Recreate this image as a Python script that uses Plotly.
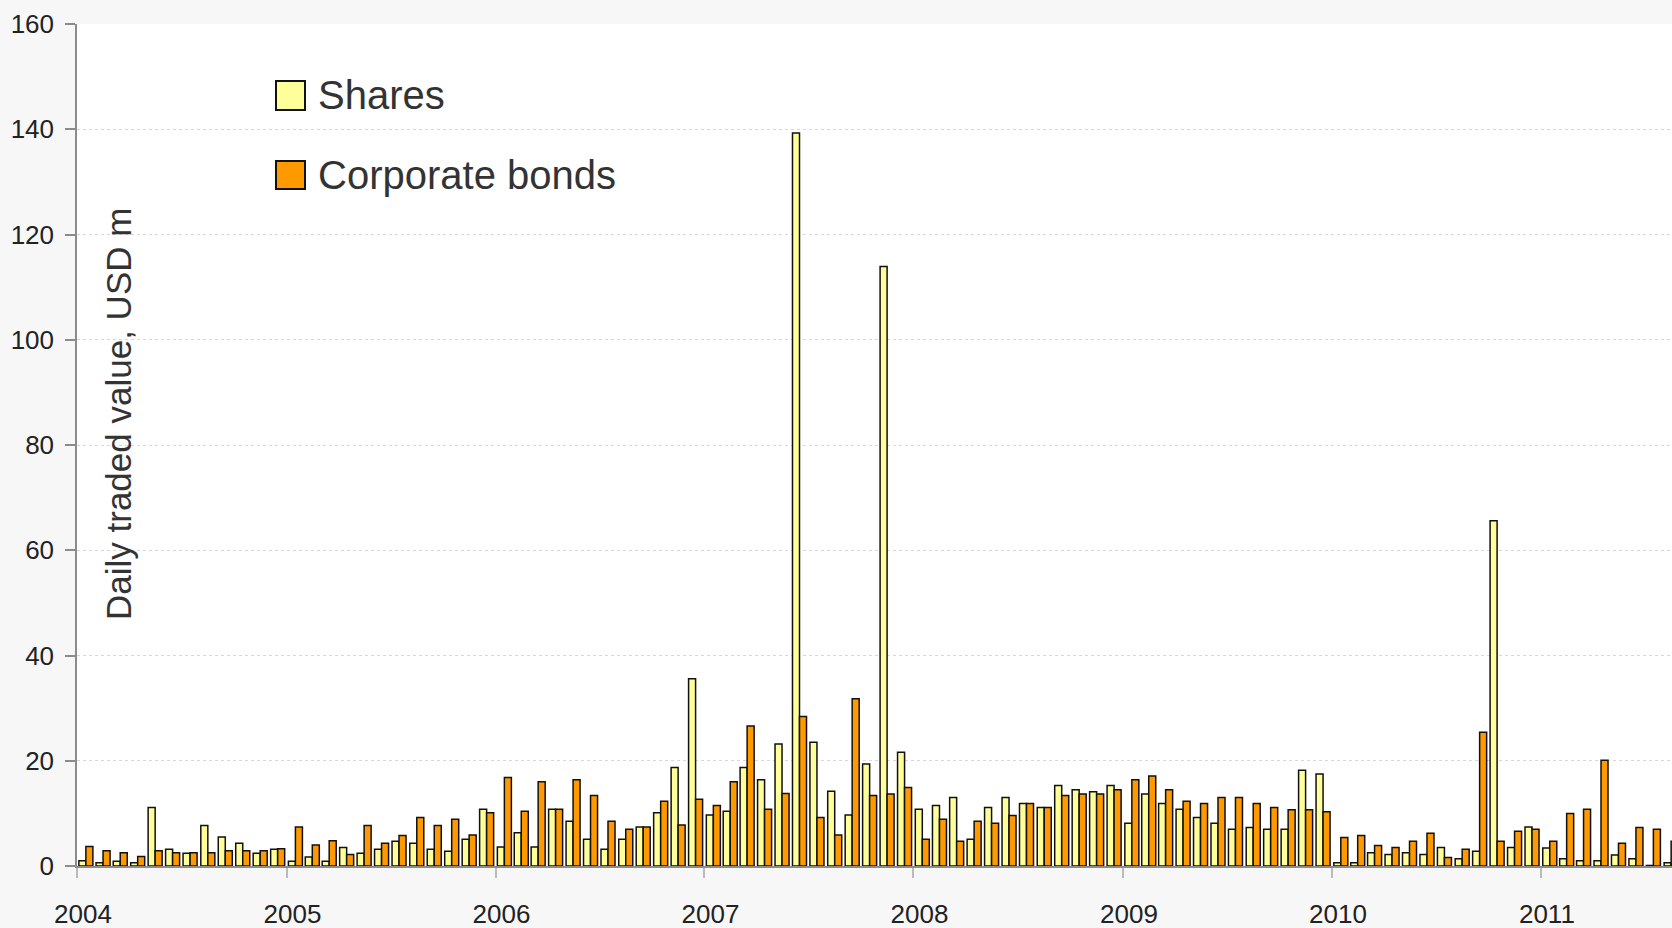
import pandas as pd
import plotly.graph_objects as go

# Monthly categories (Jan 2004 - Aug 2011)
months = pd.date_range("2004-01-01", "2011-08-01", freq="MS")

# Daily traded value, USD m
shares = [
    1.0, 0.6, 0.9, 0.6, 11.1, 3.2, 2.4, 7.7, 5.5, 4.3, 2.4, 3.2,          # 2004
    0.9, 1.7, 0.9, 3.5, 2.4, 3.2, 4.7, 4.3, 3.2, 2.8, 5.1, 10.8,          # 2005
    3.6, 6.3, 3.6, 10.8, 8.5, 5.1, 3.2, 5.1, 7.4, 10.1, 18.7, 35.6,       # 2006
    9.7, 10.4, 18.7, 16.4, 23.2, 139.3, 23.5, 14.2, 9.7, 19.4, 113.9, 21.6,  # 2007
    10.8, 11.5, 13.0, 5.1, 11.1, 13.0, 11.9, 11.1, 15.3, 14.5, 14.1, 15.3,  # 2008
    8.1, 13.7, 11.9, 10.8, 9.2, 8.1, 7.0, 7.3, 7.0, 7.0, 18.2, 17.5,      # 2009
    0.6, 0.6, 2.5, 2.2, 2.5, 2.2, 3.5, 1.4, 2.8, 65.6, 3.5, 7.4,          # 2010
    3.4, 1.4, 1.0, 1.0, 2.1, 1.4, 0.1, 0.6,                               # 2011
]
corporate_bonds = [
    3.7, 2.9, 2.5, 1.8, 2.9, 2.5, 2.5, 2.5, 2.9, 2.9, 2.9, 3.3,           # 2004
    7.4, 4.0, 4.8, 2.2, 7.7, 4.3, 5.8, 9.2, 7.7, 8.9, 5.9, 10.1,          # 2005
    16.8, 10.4, 16.0, 10.8, 16.4, 13.4, 8.5, 7.0, 7.4, 12.3, 7.8, 12.7,   # 2006
    11.5, 16.0, 26.6, 10.8, 13.8, 28.4, 9.2, 5.9, 31.8, 13.4, 13.7, 14.9, # 2007
    5.1, 8.9, 4.7, 8.5, 8.1, 9.6, 11.9, 11.1, 13.4, 13.7, 13.7, 14.5,     # 2008
    16.4, 17.1, 14.5, 12.3, 11.9, 13.0, 13.0, 11.9, 11.1, 10.7, 10.7, 10.3,  # 2009
    5.4, 5.8, 3.9, 3.5, 4.7, 6.2, 1.6, 3.2, 25.4, 4.7, 6.6, 7.0,          # 2010
    4.7, 10.0, 10.8, 20.1, 4.3, 7.3, 7.0, 4.7,                            # 2011
]

tick_labels = ["2004", "2005", "2006", "2007", "2008", "2009", "2010", "2011"]
tick_dates = [f"{y}-01-01" for y in tick_labels]
y_ticks = [0, 20, 40, 60, 80, 100, 120, 140, 160]

series_names = ["Shares", "Corporate bonds"]
series_colors = ["#FFFF99", "#FF9900"]

FONT = "Liberation Sans Narrow, Arial Narrow, Liberation Sans, Arial, sans-serif"
TXT = "#333333"
AXIS = "#8c8c8c"

fig = go.Figure()
for name, vals, col in zip(series_names, [shares, corporate_bonds], series_colors):
    fig.add_trace(go.Bar(
        x=months, y=vals, name=name,
        xperiod="M1", xperiodalignment="middle",
        marker=dict(color=col, line=dict(color="#111111", width=1.5)),
        showlegend=False,
    ))

# Legend (drawn manually for large swatches)
W0, PW, PH, B0 = 77, 1595, 842, 866
def px(x):
    return (x - W0) / PW
def py(y):
    return (B0 - y) / PH

shapes = [
    dict(type="rect", xref="paper", yref="paper", layer="between",
         x0=px(227), x1=px(653), y0=py(215), y1=py(42),
         fillcolor="white", line=dict(width=0)),
]
annotations = []
legend_rows = [(81, 110, 95), (161, 189, 175)]
for (top, bot, mid), name, col in zip(legend_rows, series_names, series_colors):
    shapes.append(dict(type="rect", xref="paper", yref="paper", layer="above",
                       x0=px(276), x1=px(305), y0=py(bot), y1=py(top),
                       fillcolor=col, line=dict(color="#111111", width=2)))
    annotations.append(dict(xref="paper", yref="paper", x=px(316), y=py(mid),
                            xanchor="left", yanchor="middle", showarrow=False,
                            text=name, font=dict(family=FONT, size=40, color=TXT)))

annotations.append(dict(xref="paper", yref="paper", x=px(118), y=py(414),
                        xanchor="center", yanchor="middle", showarrow=False,
                        textangle=-90, text="Daily traded value, USD m",
                        font=dict(family=FONT, size=35, color=TXT)))

fig.update_layout(
    width=1672, height=928,
    margin=dict(l=77, r=0, t=24, b=62),
    paper_bgcolor="#f7f7f7", plot_bgcolor="white",
    barmode="group", bargap=0.17, bargroupgap=0,
    font=dict(family=FONT, size=26, color="#222222"),
    shapes=shapes, annotations=annotations,
    xaxis=dict(
        type="date", range=["2004-01-01", "2011-08-18"],
        tickmode="array", tickvals=tick_dates, ticktext=tick_labels,
        ticks="outside", ticklen=10, tickwidth=1.5, tickcolor="#bbbbbb",
        showline=True, linecolor=AXIS, linewidth=1.5,
        showgrid=False, zeroline=False, ticklabelshift=6,
        ticklabelstandoff=14,
    ),
    yaxis=dict(
        range=[0, 160], tickmode="array", tickvals=y_ticks,
        ticks="outside", ticklen=10, tickwidth=1.5, tickcolor=AXIS,
        showline=True, linecolor=AXIS, linewidth=1.5,
        showgrid=True, gridcolor="#d8d8d8", griddash="dot", gridwidth=1,
        zeroline=False, ticklabelstandoff=6,
    ),
)

fig.write_html(
    "out.html",
    config={"displayModeBar": False},
    post_script="document.body.style.margin='0';document.body.style.background='#f7f7f7';",
)
